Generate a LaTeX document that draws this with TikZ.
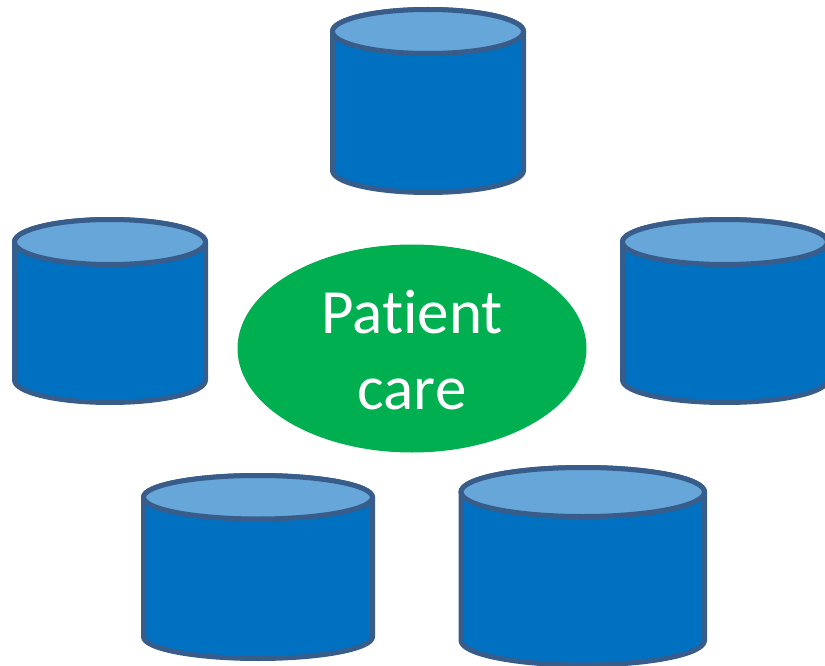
\documentclass[tikz,border=0pt]{standalone}
\usepackage{fontspec}
\setmainfont[RawFeature={-liga;-clig}]{Carlito}
\usetikzlibrary{shapes.geometric}
\definecolor{cylfill}{HTML}{0070C0}
\definecolor{cyltop}{HTML}{66A6D9}
\definecolor{cylline}{HTML}{385D8A}
\definecolor{ellgreen}{HTML}{00B050}
\tikzset{x=1pt,y=-1pt,
  cylbody/.style={fill=cylfill,draw=cylline,line width=5pt,line join=round},
  cyltopface/.style={fill=cyltop,draw=cylline,line width=5pt},
  hub/.style={ellipse,fill=ellgreen,draw=none,inner sep=0pt,minimum width=349pt,minimum height=208pt,text=white,align=center,font=\fontsize{63}{76}\selectfont}}
% #1 left, #2 right, #3 top of cap, #4 cap bottom, #5 bottom
\newcommand{\cyl}[5]{%
  \pgfmathsetmacro{\cx}{(#1+#2)/2}\pgfmathsetmacro{\rx}{(#2-#1)/2}\pgfmathsetmacro{\ry}{(#4-#3)/2}\pgfmathsetmacro{\cy}{(#3+#4)/2}
  \draw[cylbody] (#1,\cy) -- (#1,#5-\ry) arc[start angle=180,end angle=360,x radius=\rx,y radius=-\ry] -- (#2,\cy) arc[start angle=0,end angle=180,x radius=\rx,y radius=-\ry] -- cycle;
  \draw[cyltopface] (\cx,\cy) ellipse[x radius=\rx,y radius=\ry];}
\begin{document}
\begin{tikzpicture}
\useasboundingbox (0,0) rectangle (825,666);
\begin{scope}
\clip (0,0) rectangle (825,666);
\cyl{332.5}{523.5}{9.5}{53.5}{192.5}
\cyl{14.5}{205.5}{219.5}{264.5}{402.5}
\cyl{622.5}{827.5}{219.5}{264.5}{402.5}
\cyl{143.5}{372.5}{475.5}{519}{658.5}
\cyl{461}{704.5}{467.5}{516.5}{665}
\end{scope}
\node[hub] (care) at (412,348.5) {\rule{0pt}{46pt}Patient\\care};
\end{tikzpicture}
\end{document}
